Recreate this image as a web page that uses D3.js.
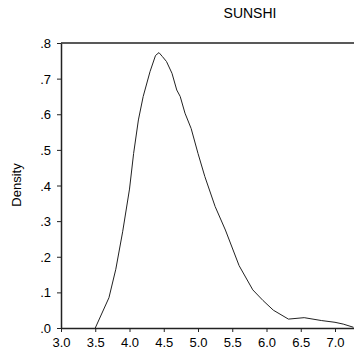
<!DOCTYPE html>
<html><head><meta charset="utf-8">
<script src="https://cdn.jsdelivr.net/npm/d3@7"></script>
<style>body{margin:0;background:#fff}svg{display:block}text{font-family:"Liberation Sans",Arial,sans-serif;fill:#000}</style>
</head><body><svg id="c" width="354" height="351"></svg>
<script>
const title = "SUNSHI";
const yLabel = "Density";
const xs = [3.50,3.70,3.80,3.90,4.00,4.06,4.13,4.20,4.30,4.38,4.43,4.48,4.54,4.62,4.69,4.74,4.81,4.90,5.00,5.10,5.25,5.40,5.60,5.80,5.95,6.10,6.32,6.55,6.80,7.00,7.12,7.27];
const dens = [0,0.085,0.165,0.27,0.39,0.49,0.584,0.65,0.72,0.765,0.773,0.762,0.748,0.715,0.668,0.65,0.603,0.56,0.49,0.425,0.341,0.275,0.175,0.107,0.077,0.05,0.025,0.029,0.021,0.016,0.011,0.002];
const xTicks = [3.0,3.5,4.0,4.5,5.0,5.5,6.0,6.5,7.0];
const yTicks = [0,0.1,0.2,0.3,0.4,0.5,0.6,0.7,0.8];

const svg = d3.select("#c");
const L=61, T=43, B=328, R=354;
const x = d3.scaleLinear().domain([3.0, 3.0 + (R-L)/68.5]).range([L,R]);
const y = d3.scaleLinear().domain([0,0.8]).range([B,T]);
const fy = v => d3.format(".1f")(v).replace(/^0/,"");

svg.append("line").attr("x1",L).attr("x2",R).attr("y1",T).attr("y2",T).attr("stroke","#222").attr("stroke-width",1.5);

const xa = svg.append("g").attr("transform",`translate(0,${B})`)
  .call(d3.axisBottom(x).tickValues(xTicks).tickFormat(d3.format(".1f")).tickSize(4).tickSizeOuter(0));
const ya = svg.append("g").attr("transform",`translate(${L},0)`)
  .call(d3.axisLeft(y).tickValues(yTicks).tickFormat(fy).tickSize(4).tickSizeOuter(0));
[xa,ya].forEach(g=>{
  g.select(".domain").attr("stroke","#222").attr("stroke-width",1.5);
  g.selectAll(".tick line").attr("stroke","#222");
  g.selectAll("text").attr("font-size",13).attr("font-family","Liberation Sans, Arial, sans-serif").attr("fill","#000");
});
xa.selectAll("text").attr("dy",null).attr("y",19);
ya.selectAll("text").attr("x",-10).attr("dy","0.35em");

svg.append("path").datum(xs.map((v,i)=>[v,dens[i]]))
  .attr("fill","none").attr("stroke","#222").attr("stroke-width",1)
  .attr("d",d3.line().x(d=>x(d[0])).y(d=>y(d[1])));

svg.append("text").attr("x",250).attr("y",18).attr("text-anchor","middle").attr("font-size",14).text(title);
svg.append("text").attr("transform","translate(21,185) rotate(-90)").attr("text-anchor","middle").attr("font-size",13).text(yLabel);
</script></body></html>
